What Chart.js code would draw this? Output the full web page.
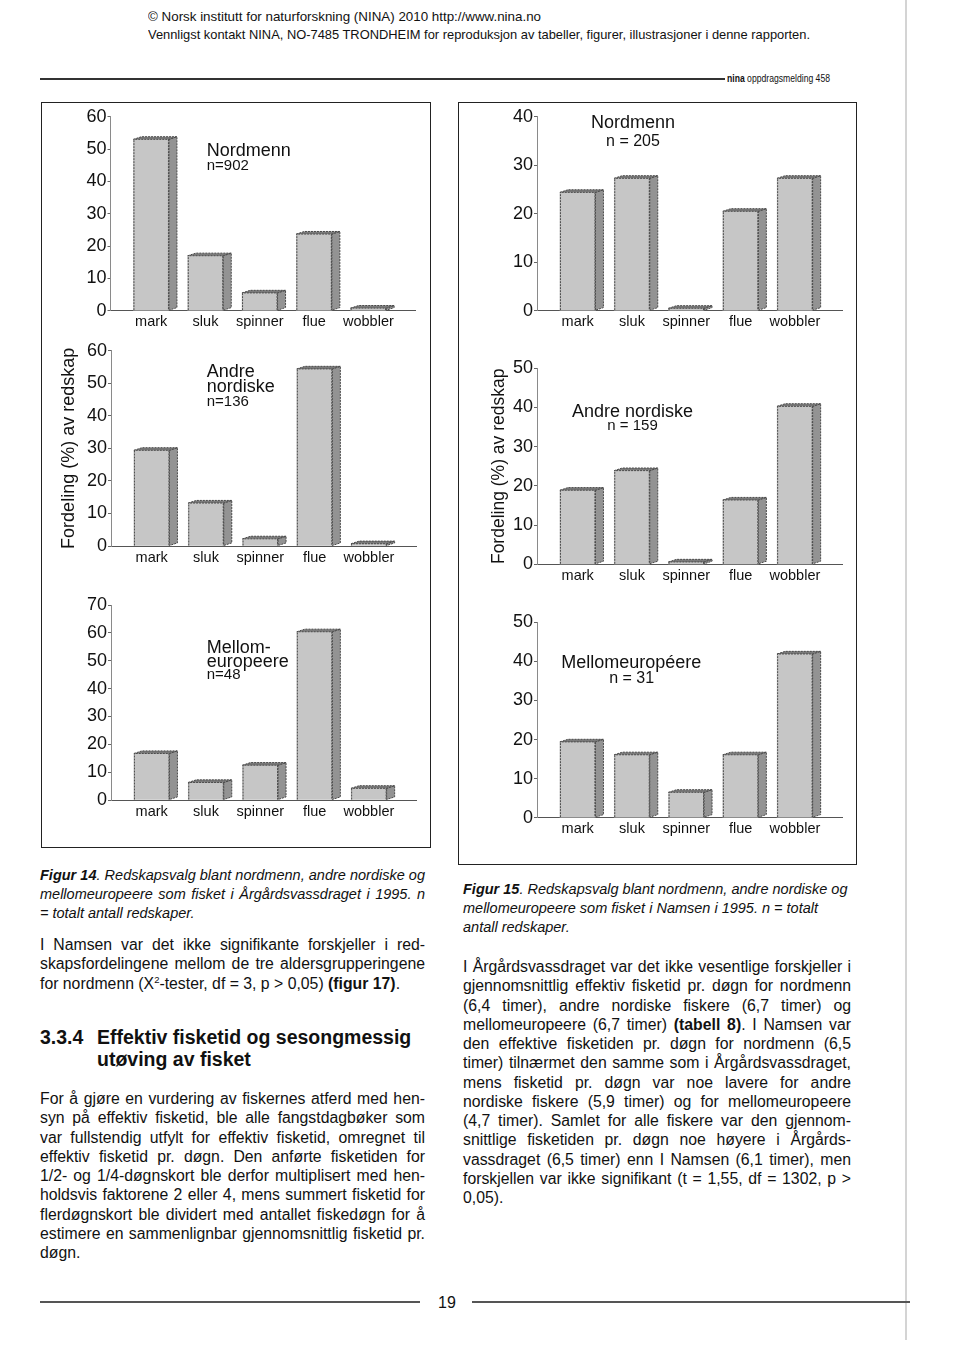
<!DOCTYPE html>
<html><head><meta charset="utf-8">
<script src="https://cdn.jsdelivr.net/npm/chart.js@4.4.1/dist/chart.umd.min.js"></script>
<style>
html,body{margin:0;padding:0;background:#fff;}
body{width:960px;height:1358px;position:relative;overflow:hidden;font-family:"Liberation Sans",Arial,sans-serif;color:#111;}
.box{position:absolute;border:1.5px solid #222;box-sizing:border-box;}
canvas{position:absolute;}
.t{position:absolute;white-space:nowrap;line-height:1;color:#111;}
.c{text-align:center;}
.col{position:absolute;}
.col div{white-space:nowrap;text-align:justify;text-align-last:justify;}
.col div.last{text-align-last:left;}
.fit{position:absolute;white-space:nowrap;line-height:1;transform-origin:0 0;}
.rule{position:absolute;background:#333;}
sup{font-size:0.6em;line-height:0;vertical-align:0.6em;}
</style></head>
<body>
<!-- header -->
<div class="fit" data-w="393" style="left:148px;top:10px;font-size:13.4px;">© Norsk institutt for naturforskning (NINA) 2010 http://www.nina.no</div>
<div class="fit" data-w="662" style="left:148px;top:28px;font-size:13.4px;">Vennligst kontakt NINA, NO-7485 TRONDHEIM for reproduksjon av tabeller, figurer, illustrasjoner i denne rapporten.</div>
<div class="rule" style="left:40px;top:77.5px;width:685px;height:2px;"></div>
<div class="fit" data-w="103" style="left:727px;top:74px;font-size:10px;"><b>nina</b> oppdragsmelding 458</div>
<div class="rule" style="left:905px;top:0;width:2px;height:1340px;background:#d4d4d4;"></div>

<!-- figure boxes -->
<div class="box" style="left:41px;top:102px;width:390px;height:746px;"></div>
<div class="box" style="left:458px;top:102px;width:399px;height:763px;"></div>

<canvas id="c1"></canvas><canvas id="c2"></canvas><canvas id="c3"></canvas>
<canvas id="c4"></canvas><canvas id="c5"></canvas><canvas id="c6"></canvas>

<!-- chart annotations -->
<div class="t" style="left:206.7px;top:140.5px;font-size:18px;">Nordmenn</div>
<div class="t" style="left:206.7px;top:156.6px;font-size:15px;">n=902</div>
<div class="t c" style="left:533px;width:200px;top:113px;font-size:18px;">Nordmenn</div>
<div class="t c" style="left:533px;width:200px;top:133.2px;font-size:16px;">n = 205</div>
<div class="t" style="left:206.7px;top:361.5px;font-size:18px;">Andre</div>
<div class="t" style="left:206.7px;top:376.5px;font-size:18px;">nordiske</div>
<div class="t" style="left:206.7px;top:393px;font-size:15px;">n=136</div>
<div class="t c" style="left:532.5px;width:200px;top:402.1px;font-size:18px;">Andre nordiske</div>
<div class="t c" style="left:532.5px;width:200px;top:416.5px;font-size:15px;">n = 159</div>
<div class="t" style="left:206.7px;top:638.1px;font-size:18px;">Mellom-</div>
<div class="t" style="left:206.7px;top:652.1px;font-size:18px;">europeere</div>
<div class="t" style="left:206.7px;top:665.6px;font-size:15px;">n=48</div>
<div class="t c" style="left:531.3px;width:200px;top:653.1px;font-size:18px;">Mellomeuropéere</div>
<div class="t c" style="left:531.7px;width:200px;top:669.8px;font-size:16px;">n = 31</div>

<!-- left column text -->
<div class="col" style="left:40px;top:865.5px;width:385px;font-size:14.5px;font-style:italic;line-height:19.25px;">
<div><b>Figur 14</b>. Redskapsvalg blant nordmenn, andre nordiske og</div>
<div>mellomeuropeere som fisket i Årgårdsvassdraget i 1995. n</div>
<div class="last">= totalt antall redskaper.</div>
</div>
<div class="col" style="left:40px;top:935px;width:385px;font-size:15.8px;line-height:19.25px;">
<div>I Namsen var det ikke signifikante forskjeller i red-</div>
<div>skapsfordelingene mellom de tre aldersgrupperingene</div>
<div class="last">for nordmenn (X<sup>2</sup>-tester, df = 3, p &gt; 0,05) <b>(figur 17)</b>.</div>
</div>
<div class="t" style="left:40px;top:1026px;font-size:19.5px;font-weight:bold;line-height:22px;">3.3.4</div>
<div class="t" style="left:97px;top:1026px;font-size:19.5px;font-weight:bold;line-height:22px;">Effektiv fisketid og sesongmessig<br>utøving av fisket</div>
<div class="col" style="left:40px;top:1089px;width:385px;font-size:15.8px;line-height:19.25px;">
<div>For å gjøre en vurdering av fiskernes atferd med hen-</div>
<div>syn på effektiv fisketid, ble alle fangstdagbøker som</div>
<div>var fullstendig utfylt for effektiv fisketid, omregnet til</div>
<div>effektiv fisketid pr. døgn. Den anførte fisketiden for</div>
<div>1/2- og 1/4-døgnskort ble derfor multiplisert med hen-</div>
<div>holdsvis faktorene 2 eller 4, mens summert fisketid for</div>
<div>flerdøgnskort ble dividert med antallet fiskedøgn for å</div>
<div>estimere en sammenlignbar gjennomsnittlig fisketid pr.</div>
<div class="last">døgn.</div>
</div>

<!-- right column text -->
<div class="col" style="left:463px;top:879.5px;width:388px;font-size:14.5px;font-style:italic;line-height:19.25px;">
<div class="last"><b>Figur 15</b>. Redskapsvalg blant nordmenn, andre nordiske og</div>
<div class="last">mellomeuropeere som fisket i Namsen i 1995. n = totalt</div>
<div class="last">antall redskaper.</div>
</div>
<div class="col" style="left:463px;top:957px;width:388px;font-size:15.8px;line-height:19.25px;">
<div>I Årgårdsvassdraget var det ikke vesentlige forskjeller i</div>
<div>gjennomsnittlig effektiv fisketid pr. døgn for nordmenn</div>
<div>(6,4 timer), andre nordiske fiskere (6,7 timer) og</div>
<div>mellomeuropeere (6,7 timer) <b>(tabell 8)</b>. I Namsen var</div>
<div>den effektive fisketiden pr. døgn for nordmenn (6,5</div>
<div>timer) tilnærmet den samme som i Årgårdsvassdraget,</div>
<div>mens fisketid pr. døgn var noe lavere for andre</div>
<div>nordiske fiskere (5,9 timer) og for mellomeuropeere</div>
<div>(4,7 timer). Samlet for alle fiskere var den gjennom-</div>
<div>snittlige fisketiden pr. døgn noe høyere i Årgårds-</div>
<div>vassdraget (6,5 timer) enn I Namsen (6,1 timer), men</div>
<div>forskjellen var ikke signifikant (t = 1,55, df = 1302, p &gt;</div>
<div class="last">0,05).</div>
</div>

<!-- footer -->
<div class="rule" style="left:40px;top:1301px;width:380px;height:1.5px;background:#555;"></div>
<div class="rule" style="left:472px;top:1301px;width:438px;height:1.5px;background:#555;"></div>
<div class="t" style="left:438px;top:1294.5px;font-size:16px;">19</div>

<script>
// ---------------- data ----------------
const categories = ['mark', 'sluk', 'spinner', 'flue', 'wobbler'];
// Årgårdsvassdraget (Figur 14), % av redskap
const argNordmenn       = [53.0, 17.0, 5.5, 23.7, 0.8];
const argAndreNordiske  = [29.4, 13.2, 2.2, 54.4, 0.7];
const argMellomeuropeere= [16.7, 6.3, 12.5, 60.4, 4.2];
// Namsen (Figur 15), % av redskap
const namNordmenn       = [24.4, 27.3, 0.5, 20.5, 27.3];
const namAndreNordiske  = [18.9, 23.9, 0.6, 16.4, 40.3];
const namMellomeuropeere= [19.4, 16.1, 6.5, 16.1, 41.9];
// y-axis maxima (tick labels every 10)
const yMaxes = [60, 40, 60, 50, 70, 50];
const yTickStep = 10;
const yTitle = 'Fordeling (%) av redskap';

// ---------------- styles / layout ----------------
const FONT = "'Liberation Sans', Arial, sans-serif";
const FRONT = '#c6c6c6', SIDE = '#939393', TOPC = '#7a7a7a', EDGE = '#4a4a4a';
const PLOT_W = 305, FIRST = 40.7, STEP = 54.3, BAR_W = 35.5;
const layouts = [
  {id:'c1', axisX:110.5, topPx:116.7, zeroPx:310.7, title:null},
  {id:'c2', axisX:537,   topPx:116.7, zeroPx:310.7, title:null},
  {id:'c3', axisX:111,   topPx:350.7, zeroPx:546,   title:{size:18, center:69.5}},
  {id:'c4', axisX:537,   topPx:368.3, zeroPx:564.3, title:{size:17.5, center:499.5}},
  {id:'c5', axisX:111,   topPx:605,   zeroPx:800,   title:null},
  {id:'c6', axisX:537,   topPx:622.3, zeroPx:817.7, title:null},
];
const seriesList = [argNordmenn, namNordmenn, argAndreNordiske, namAndreNordiske, argMellomeuropeere, namMellomeuropeere];

const bar3d = {
  id: 'bar3d',
  afterDatasetsDraw(chart) {
    const ctx = chart.ctx;
    const meta = chart.getDatasetMeta(0);
    const dx = 8, dy = 2.6;
    ctx.save();
    ctx.lineWidth = 1;
    ctx.strokeStyle = EDGE;
    meta.data.forEach(el => {
      const p = el.getProps(['x', 'y', 'base', 'width'], true);
      const L = p.x - p.width / 2, R = p.x + p.width / 2;
      const T = Math.min(p.y, p.base), B = Math.max(p.y, p.base);
      ctx.setLineDash([2, 1]);
      ctx.fillStyle = SIDE;
      ctx.beginPath();
      ctx.moveTo(R, T); ctx.lineTo(R + dx, T - dy); ctx.lineTo(R + dx, B - dy); ctx.lineTo(R, B); ctx.closePath();
      ctx.fill(); ctx.stroke();
      ctx.fillStyle = TOPC;
      ctx.beginPath();
      ctx.moveTo(L, T); ctx.lineTo(L + dx, T - dy); ctx.lineTo(R + dx, T - dy); ctx.lineTo(R, T); ctx.closePath();
      ctx.fill(); ctx.stroke();
      ctx.beginPath();
      ctx.moveTo(L + 0.5, B); ctx.lineTo(L + 0.5, T); ctx.moveTo(R - 0.5, T); ctx.lineTo(R - 0.5, B);
      ctx.stroke();
    });
    ctx.restore();
  }
};

layouts.forEach((lay, k) => {
  const cv = document.getElementById(lay.id);
  const left = Math.round(lay.axisX - 70);
  const top = Math.round(lay.topPx - 14);
  const yw = lay.axisX - left;
  const padTop = lay.topPx - top;
  const width = Math.ceil(lay.axisX + PLOT_W + 14 - left);
  const padRight = left + width - (lay.axisX + PLOT_W);
  const height = Math.ceil(lay.zeroPx + 30 - top);
  const xh = top + height - lay.zeroPx;
  cv.width = width; cv.height = height;
  cv.style.left = left + 'px'; cv.style.top = top + 'px';
  cv.style.width = width + 'px'; cv.style.height = height + 'px';
  const range = PLOT_W / STEP;
  const xmin = -FIRST / STEP;
  const values = seriesList[k];
  let titleOpt = {display: false};
  if (lay.title) {
    const lh = lay.title.size * 1.2;
    titleOpt = {display: true, text: yTitle, color: '#111',
      font: {family: FONT, size: lay.title.size, lineHeight: 1.2},
      padding: {top: (lay.title.center - left) - lh / 2, bottom: 0}};
  }
  new Chart(cv, {
    type: 'bar',
    data: {
      datasets: [{
        data: categories.map((c, i) => ({x: i, y: values[i]})),
        backgroundColor: FRONT,
        borderColor: EDGE,
        borderWidth: 0,
        barThickness: BAR_W,
        clip: false
      }]
    },
    options: {
      responsive: false,
      animation: false,
      devicePixelRatio: 1,
      events: [],
      layout: {padding: {left: 0, top: padTop, right: padRight, bottom: 0}},
      plugins: {legend: {display: false}, tooltip: {enabled: false}},
      scales: {
        x: {
          type: 'linear', min: xmin, max: xmin + range,
          offset: false, bounds: 'data', grace: 0,
          grid: {display: false, drawTicks: false, offset: false},
          border: {display: true, color: '#555', width: 1},
          afterBuildTicks: s => { s.ticks = categories.map((c, i) => ({value: i})); },
          afterFit: s => { s.height = xh; },
          ticks: {autoSkip: false, maxRotation: 0, padding: 3, color: '#111',
            font: {family: FONT, size: 14.5},
            callback: v => categories[v]}
        },
        y: {
          min: 0, max: yMaxes[k],
          grid: {display: true, drawOnChartArea: false, drawTicks: true, tickLength: 3, color: '#666'},
          border: {display: true, color: '#8a8a8a', width: 1},
          afterFit: s => { s.width = yw; },
          title: titleOpt,
          ticks: {stepSize: yTickStep, padding: 1, color: '#111', font: {family: FONT, size: 18}}
        }
      }
    },
    plugins: [bar3d]
  });
});

// fit header lines to their measured widths
document.querySelectorAll('.fit').forEach(el => {
  const w = el.getBoundingClientRect().width;
  const target = +el.dataset.w;
  if (w > 0) el.style.transform = 'scaleX(' + (target / w) + ')';
});
</script>
</body></html>
